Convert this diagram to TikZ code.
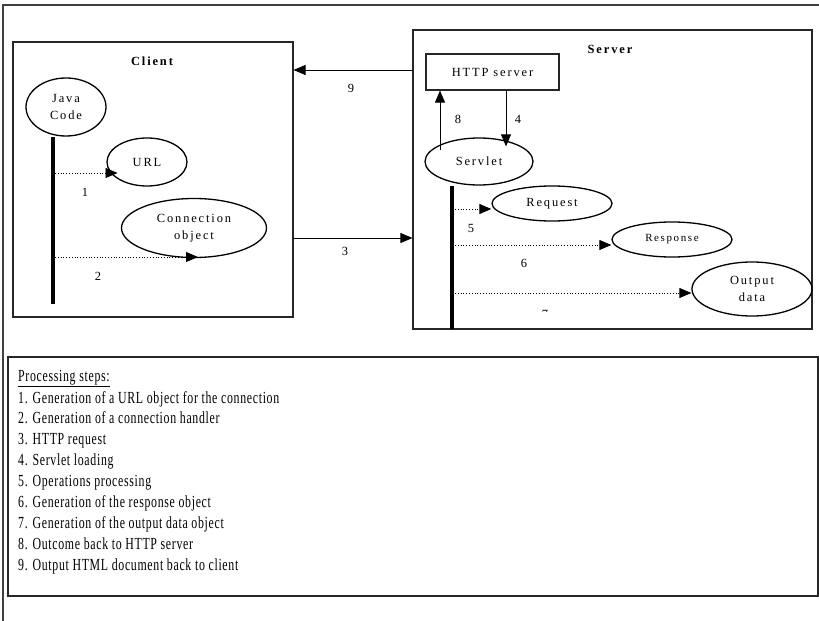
\documentclass[tikz,border=0pt]{standalone}
\usepackage{fontspec}
\setmainfont{Liberation Serif}
\newfontfamily\lblfont[LetterSpace=15]{Liberation Serif}
\newfontfamily\listfont[FakeStretch=0.70,LetterSpace=4]{Liberation Serif}
\usetikzlibrary{shapes.geometric,arrows.meta}

\begin{document}
\begin{tikzpicture}[x=1bp,y=-1bp,
  frame/.style={draw=black!75, line width=1.1bp},
  box/.style={draw=black!85, line width=1.1bp, rectangle, inner sep=0pt},
  oval/.style={draw, ellipse, line width=1.3bp, inner sep=0pt, align=center,
    font=\lblfont\fontsize{12.5}{16.5}\selectfont},
  bar/.style={line width=4.5bp},
  link/.style={line width=0.9bp, -{Triangle[length=12bp,width=10bp]}},
  call/.style={dotted, line width=0.8bp, -{Triangle[length=12bp,width=10bp]}},
  num/.style={font=\fontsize{12.5}{14}\selectfont, inner sep=0pt},
  title/.style={font=\lblfont\bfseries\fontsize{12.5}{14}\selectfont, inner sep=0pt}]
\useasboundingbox (0,0) rectangle (819,621);

% outer frame (only top and left edges visible)
\draw[frame] (3,621) -- (3,5) -- (819,5);

% client side
\node[box, minimum width=280bp, minimum height=275bp] (client) at (153,179.5) {};
\node[title] (clientlbl) at (152,61) {Client};
\node[oval, minimum width=80bp, minimum height=58bp] (java) at (66,107) {Java\\Code};
\node[oval, minimum width=80bp, minimum height=48bp] (url) at (147,162) {URL};
\node[oval, minimum width=145bp, minimum height=59bp] (conn) at (194,228) {Connection\\object};

\coordinate (jb) at (53,304);
\draw[bar] (jb) -- (jb |- java.south);
\coordinate (c1) at (55,173);
\coordinate (c2) at (55,257);
\draw[call] (c1) -- (c1 -| url.210);
\draw[call] (c2) -- ([xshift=4bp]c2 -| conn.south);
\node[num] (n1) at (85,192) {1};
\node[num] (n2) at (98,276) {2};

% server side
\node[box, minimum width=399bp, minimum height=299bp] (server) at (612.5,179.5) {};
\node[title] (serverlbl) at (610,49) {Server};
\node[box, minimum width=133bp, minimum height=36bp,
  font=\lblfont\fontsize{12.5}{14}\selectfont] (http) at (492.5,72) {HTTP server};
\node[oval, minimum width=108bp, minimum height=47bp] (servlet) at (479,161.5) {Servlet};
\node[oval, minimum width=120bp, minimum height=35bp] (req) at (552,203.5) {Request};
\node[oval, minimum width=120bp, minimum height=35bp,
  font=\lblfont\fontsize{11}{13}\selectfont] (resp) at (672,239.5) {Response};
\node[oval, minimum width=120bp, minimum height=54bp] (out) at (752,289) {Output\\data};

\coordinate (sb) at (452,329);
\draw[bar] (sb) -- (sb |- servlet.south);
\coordinate (c5) at (455,209);
\coordinate (c6) at (455,245);
\coordinate (c7) at (455,293);
\draw[call] (c5) -- (c5 -| req.west);
\draw[call] (c6) -- (c6 -| resp.west);
\draw[call] (c7) -- (c7 -| out.west);
\node[num] (n5) at (471,228) {5};
\node[num] (n6) at (524,263) {6};
\begin{scope}
  \clip (530,300) rectangle (560,311);
  \node[num] (n7) at (545,314) {7};
\end{scope}

% HTTP server <-> servlet
\coordinate (h4) at (506,90);
\coordinate (h8) at (440,150);
\draw[link] (h4) -- ([yshift=-9bp]h4 |- servlet.north);
\draw[link] (h8) -- (h8 |- http.south);
\node[num] (n8) at (458,119) {8};
\node[num] (n4) at (518,119) {4};

% client <-> server
\coordinate (s9) at (413,70);
\coordinate (c3) at (293,238);
\draw[link] (s9) -- (s9 -| client.east);
\draw[link] (c3) -- (c3 -| server.west);
\node[num] (n9) at (351,88) {9};
\node[num] (n3) at (345,251) {3};

% processing steps legend
\node[box, minimum width=810bp, minimum height=239bp] (legend) at (413,476.5) {};
\foreach \txt [count=\i from 0] in {
  {\underline{Processing steps:}},
  {1. Generation of a URL object for the connection},
  {2. Generation of a connection handler},
  {3. HTTP request},
  {4. Servlet loading},
  {5. Operations processing},
  {6. Generation of the response object},
  {7. Generation of the output data object},
  {8. Outcome back to HTTP server},
  {9. Output HTML document back to client}} {
  \pgfmathsetmacro{\yy}{\i==0 ? 381 : 403 + 20.9*(\i-1)}
  \node[anchor=base west, inner sep=0pt, font=\listfont\fontsize{17}{19}\selectfont]
    (line\i) at (18,\yy) {\txt};
}
\end{tikzpicture}
\end{document}
